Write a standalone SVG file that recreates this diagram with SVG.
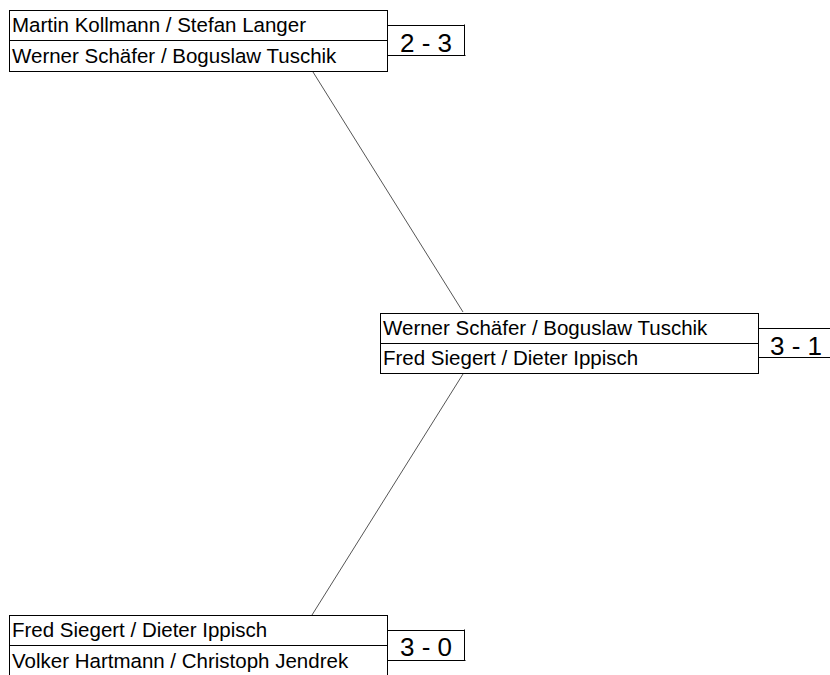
<svg xmlns="http://www.w3.org/2000/svg" width="830" height="675" viewBox="0 0 830 675">
<style>
  .box { fill: #ffffff; stroke: #000000; stroke-width: 1; }
  .ln { fill: none; stroke: #000000; stroke-width: 1; }
  .conn { fill: none; stroke: #555555; stroke-width: 1; }
  .name { font-family: "Liberation Sans", Arial, sans-serif; font-size: 20.5px; fill: #000000; }
  .score { font-family: "Liberation Sans", Arial, sans-serif; font-size: 26px; fill: #000000; text-anchor: middle; }
</style>
<rect width="830" height="675" fill="#ffffff"/>
<g id="connectors">
  <path class="conn" d="M313,72 L463,312"/>
  <path class="conn" d="M463,374 L312,615"/>
</g>
<g id="match1">
  <rect class="box" x="9.5" y="10.5" width="378" height="61"/>
  <line class="ln" x1="9.5" y1="40.5" x2="387.5" y2="40.5"/>
  <text class="name" x="12" y="32">Martin Kollmann / Stefan Langer</text>
  <text class="name" x="12" y="63">Werner Schäfer / Boguslaw Tuschik</text>
  <polyline class="ln" points="387.5,25.5 464.5,25.5"/>
  <polyline class="ln" points="464.5,24.5 464.5,55.5"/>
  <polyline class="ln" points="387.5,55.5 465.5,55.5"/>
  <text class="score" x="426" y="52">2 - 3</text>
</g>
<g id="match2">
  <rect class="box" x="380.5" y="313.5" width="378" height="60"/>
  <line class="ln" x1="380.5" y1="343.5" x2="758.5" y2="343.5"/>
  <text class="name" x="383" y="334.5">Werner Schäfer / Boguslaw Tuschik</text>
  <text class="name" x="383" y="364.5">Fred Siegert / Dieter Ippisch</text>
  <polyline class="ln" points="758.5,328.5 830,328.5"/>
  <polyline class="ln" points="758.5,357.5 830,357.5"/>
  <text class="score" x="796" y="355">3 - 1</text>
</g>
<g id="match3">
  <rect class="box" x="9.5" y="615.5" width="378" height="61"/>
  <line class="ln" x1="9.5" y1="645.5" x2="387.5" y2="645.5"/>
  <text class="name" x="12" y="637">Fred Siegert / Dieter Ippisch</text>
  <text class="name" x="12" y="668">Volker Hartmann / Christoph Jendrek</text>
  <polyline class="ln" points="387.5,630.5 464.5,630.5"/>
  <polyline class="ln" points="464.5,629.5 464.5,660.5"/>
  <polyline class="ln" points="387.5,660.5 465.5,660.5"/>
  <text class="score" x="426" y="656">3 - 0</text>
</g>
</svg>
